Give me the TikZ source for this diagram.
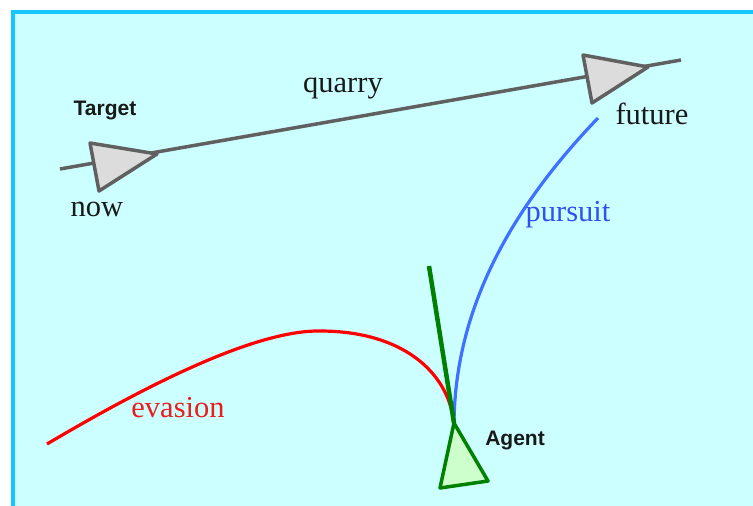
\documentclass[tikz,border=0pt]{standalone}
\usepackage{fontspec}
\setmainfont{Liberation Serif}
\newfontfamily\labsans{Liberation Sans}
\definecolor{bgcyan}{RGB}{204,255,255}
\definecolor{framecyan}{RGB}{20,200,255}
\definecolor{linegray}{RGB}{96,96,96}
\definecolor{trigray}{RGB}{220,220,220}
\definecolor{pblue}{RGB}{64,112,255}
\definecolor{ptext}{RGB}{48,80,240}
\definecolor{ered}{RGB}{255,0,0}
\definecolor{etext}{RGB}{235,30,30}
\definecolor{agreen}{RGB}{0,128,0}
\definecolor{alight}{RGB}{204,255,204}
\definecolor{txt}{RGB}{25,25,25}
\tikzset{
  serlab/.style={inner sep=0pt, font=\fontsize{30.5}{33}\selectfont, text=txt},
  sanslab/.style={inner sep=0pt, font=\labsans\bfseries\fontsize{21}{24}\selectfont, text=txt},
  tri/.style={draw=linegray, fill=trigray, line width=3.5pt, line join=round},
  atri/.style={draw=agreen, fill=alight, line width=3.5pt, line join=round},
  quarryline/.style={draw=linegray, line width=3.5pt},
  pursuitline/.style={draw=pblue, line width=3.2pt},
  evasionline/.style={draw=ered, line width=3.2pt},
  heading/.style={draw=agreen, line width=4.5pt}
}
\begin{document}
\begin{tikzpicture}[x=1pt,y=-1pt]
\useasboundingbox (0,0) rectangle (753,506);
\fill[white] (0,0) rectangle (753,506);
\fill[bgcyan] (13,12) rectangle (770,520);
\draw[framecyan, line width=4pt] (13,520) -- (13,12) -- (770,12);
% quarry line
\coordinate (qs) at (60,169);
\coordinate (qe) at (681,60);
\draw[quarryline] (qs) -- (qe);
% target triangles
\coordinate (n1) at (90,143);
\coordinate (n2) at (99,191);
\coordinate (n3) at (157,154);
\draw[tri] (n1) -- (n2) -- (n3) -- cycle;
\coordinate (f1) at (583,55);
\coordinate (f2) at (592,103);
\coordinate (f3) at (648,67);
\draw[tri] (f1) -- (f2) -- (f3) -- cycle;
% agent
\coordinate (ag) at (454,423);
\coordinate (a2) at (440,488);
\coordinate (a3) at (488,481);
\coordinate (hd) at (429,266);
\coordinate (ps) at (598,118);
\coordinate (es) at (47,444);
\coordinate (eh) at (320,331);
\draw[evasionline] (es) .. controls (130,395) and (250,330) .. (eh)
  .. controls (400,331) and (448,370) .. (ag);
\draw[pursuitline] (ps) .. controls (500,220) and (455,320) .. (ag);
\draw[heading] (hd) -- (ag);
\draw[atri] (ag) -- (a2) -- (a3) -- cycle;
% labels
\node[sanslab] (target) at (105,110) {Target};
\node[serlab] (now) at (97,209) {now};
\node[serlab] (quarry) at (343,88) {quarry};
\node[serlab] (future) at (652,114) {future};
\node[serlab, text=ptext] (pursuit) at (568,215) {pursuit};
\node[serlab, text=etext] (evasion) at (178,408) {evasion};
\node[sanslab] (agent) at (515,440) {Agent};
\end{tikzpicture}
\end{document}
